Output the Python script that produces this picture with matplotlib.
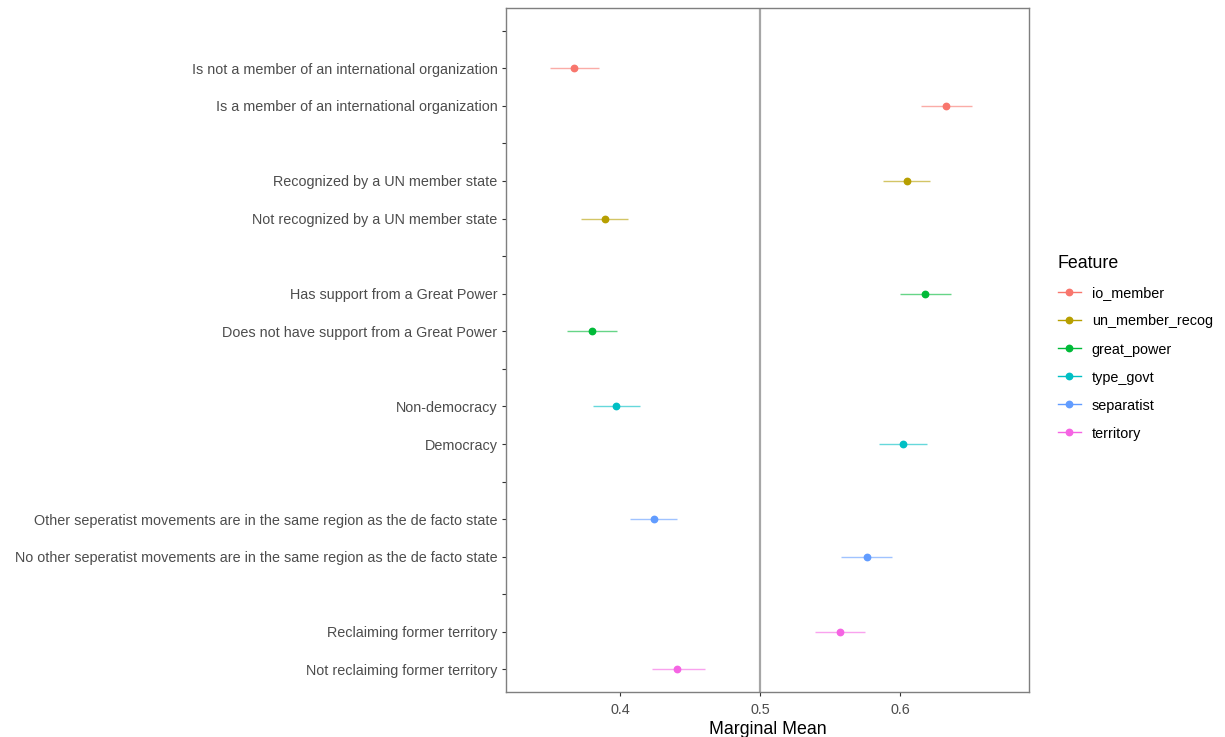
import numpy as np
import matplotlib
matplotlib.use("Agg")
import matplotlib.pyplot as plt
from matplotlib.lines import Line2D

plt.rcParams["font.family"] = ["Liberation Sans", "DejaVu Sans"]

# features (legend order) and their colours (ggplot hue palette)
features = ["io_member", "un_member_recog", "great_power", "type_govt", "separatist", "territory"]
colors = ["#F8766D", "#B79F00", "#00BA38", "#00BFC4", "#619CFF", "#F564E3"]

# levels per feature, top to bottom
levels = [
    ["Is not a member of an international organization", "Is a member of an international organization"],
    ["Recognized by a UN member state", "Not recognized by a UN member state"],
    ["Has support from a Great Power", "Does not have support from a Great Power"],
    ["Non-democracy", "Democracy"],
    ["Other seperatist movements are in the same region as the de facto state",
     "No other seperatist movements are in the same region as the de facto state"],
    ["Reclaiming former territory", "Not reclaiming former territory"],
]

# marginal means and 95% CI bounds, same order as levels
estimate = [[0.367, 0.633], [0.605, 0.389], [0.618, 0.380], [0.397, 0.602], [0.424, 0.576], [0.557, 0.441]]
lower = [[0.350, 0.615], [0.588, 0.372], [0.600, 0.362], [0.381, 0.585], [0.407, 0.558], [0.539, 0.423]]
upper = [[0.385, 0.651], [0.621, 0.406], [0.636, 0.398], [0.414, 0.619], [0.441, 0.594], [0.575, 0.461]]

fig = plt.figure(figsize=(12.25, 7.37), dpi=100)
ax = fig.add_axes([0.413, 0.061, 0.427, 0.928])

ticks, ticklabels = [], []
pos = 0
for f, (feat, col) in enumerate(zip(features, colors)):
    ticks.append(pos)
    ticklabels.append("")
    pos += 1
    for lv, est, lo, hi in zip(levels[f], estimate[f], lower[f], upper[f]):
        ax.hlines(pos, lo, hi, color=col, lw=1.0, alpha=0.6, zorder=2)
        ax.plot(est, pos, "o", color=col, ms=4.6, zorder=3)
        ticks.append(pos)
        ticklabels.append(lv)
        pos += 1

ax.axvline(0.5, color="#A6A6A6", lw=1.6, zorder=1)

ax.set_yticks(ticks)
ax.set_yticklabels(ticklabels, fontsize=10.35, color="#4D4D4D")
ax.set_ylim(pos - 1 + 0.6, -0.6)
ax.set_xlim(0.3186, 0.692)
ax.set_xticks([0.4, 0.5, 0.6])
ax.set_xticklabels(["0.4", "0.5", "0.6"], fontsize=10.35, color="#4D4D4D")
ax.set_xlabel("Marginal Mean", fontsize=12.8, labelpad=3)
ax.tick_params(axis="both", length=3, width=0.8, color="#333333", pad=3)
ax.tick_params(axis="x", pad=5)

for s in ax.spines.values():
    s.set_color("#7F7F7F")
    s.set_linewidth(1.0)

handles = [Line2D([0], [0], color=c, lw=1.0, marker="o", ms=4.6,
                  markerfacecolor=c, markeredgecolor=c) for c in colors]
leg = fig.legend(handles, features, title="Feature", loc="upper left",
                 bbox_to_anchor=(0.853, 0.671), frameon=False, fontsize=10.4,
                 title_fontsize=12.8, handlelength=1.6, labelspacing=0.97,
                 handletextpad=0.75)
leg._legend_box.align = "left"

fig.savefig("out.png", dpi=100)
